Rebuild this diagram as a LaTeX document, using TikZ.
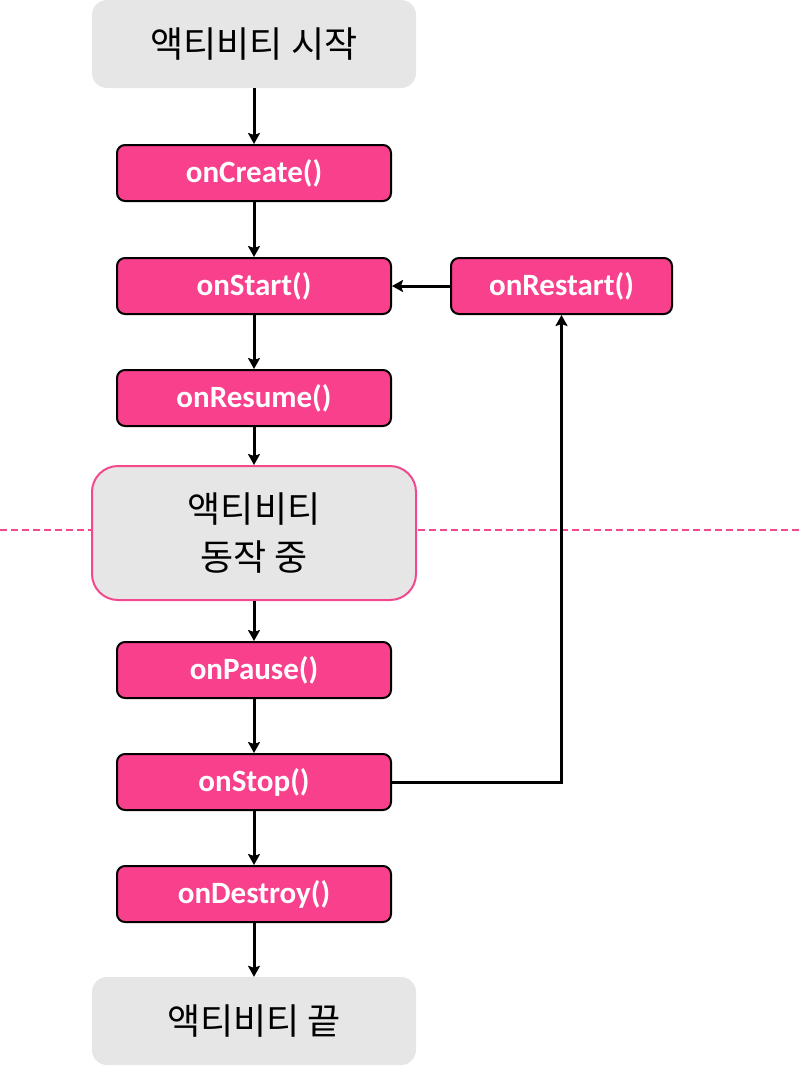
\documentclass[tikz,border=0pt]{standalone}
\usepackage{fontspec}
\setmainfont{Carlito}
\newfontfamily\kor{Noto Sans CJK KR}
\usetikzlibrary{arrows.meta}
\definecolor{callpink}{RGB}{248,64,140}
\definecolor{phasegray}{RGB}{230,230,230}
\definecolor{linepink}{RGB}{242,72,142}
\tikzstyle{phase} = [fill=phasegray, rounded corners=15pt, minimum width=324pt, minimum height=88pt, align=center, font=\kor\fontsize{36}{48}\selectfont]
\tikzstyle{call} = [draw=black, line width=2pt, fill=callpink, rounded corners=8pt, minimum width=274pt, minimum height=56pt, text=white, font=\bfseries\fontsize{31}{36}\selectfont]
\tikzstyle{flow} = [draw=black, line width=3pt, -{Stealth[length=11pt,width=12pt,inset=2pt]}]

\begin{document}
\begin{tikzpicture}[x=1pt, y=-1pt]
    \useasboundingbox (0,0) rectangle (800,1066);
    % boundary of the running state
    \draw[linepink, line width=2.3pt, dash pattern=on 7pt off 4pt] (0,530) -- (800,530);

    \node[phase] (begin) at (254,44) {액티비티 시작};
    \node[call] (create)  at (254,173) {onCreate()};
    \node[call] (start)   at (254,286) {onStart()};
    \node[call, minimum width=221pt] (restart) at (561.5,286) {onRestart()};
    \node[call] (resume)  at (254,398) {onResume()};
    \node[phase, draw=linepink, line width=2pt, rounded corners=26pt, minimum height=134pt] (running) at (254,533) {액티비티\\동작 중};
    \node[call] (pause)   at (254,670) {onPause()};
    \node[call] (stop)    at (254,782) {onStop()};
    \node[call] (destroy) at (254,894) {onDestroy()};
    \node[phase] (finish) at (254,1021) {액티비티 끝};

    % main line
    \draw[flow] (begin.south) -- (create.north);
    \draw[flow] (create.south) -- (start.north);
    \draw[flow] (start.south) -- (resume.north);
    \draw[flow] (resume.south) -- (running.north);
    \draw[flow] (running.south) -- (pause.north);
    \draw[flow] (pause.south) -- (stop.north);
    \draw[flow] (stop.south) -- (destroy.north);
    \draw[flow] (destroy.south) -- (finish.north);

    % back to start
    \draw[flow] (stop.east) -| (restart.south);
    \draw[flow] (restart.west) -- (start.east);
\end{tikzpicture}
\end{document}
